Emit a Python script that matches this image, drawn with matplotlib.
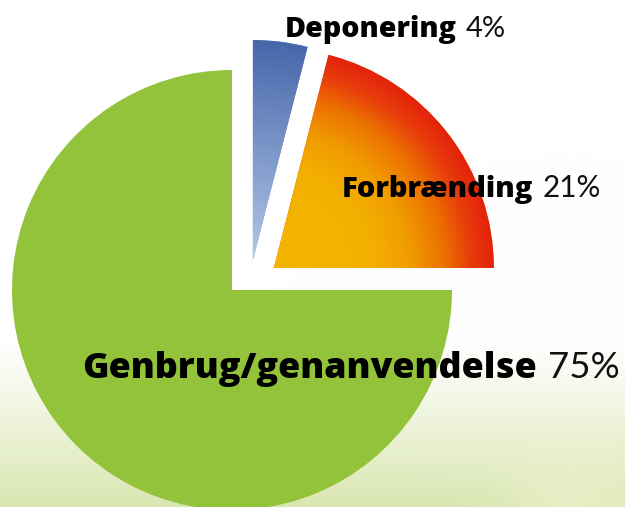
import numpy
import matplotlib
matplotlib.use("Agg")
import matplotlib.pyplot as plt
from matplotlib.colors import LinearSegmentedColormap, to_rgb

# data
categories = ["Genbrug/genanvendelse", "Forbrænding", "Deponering"]
shares = [75, 21, 4]
pct_labels = ["75%", "21%", "4%"]

# layout (pixels of a 625x507 picture)
W, H = 625, 507
R_PX = 220.0
CX, CY = 232.0, 290.0
# shift of each slice out of the pie, in radius units (x right, y up)
shifts = [(0.0, 0.0), (0.19, 0.10), (0.095, 0.136)]
label_pos = [(82, 378, 25.8), (342, 197, 21), (285, 37, 20.6)]

green = "#92c33a"
blue_map = LinearSegmentedColormap.from_list("b", ["#b4c7e7", "#7c97c9", "#4767ab"])
orange_map = LinearSegmentedColormap.from_list(
    "o", [(0.0, "#f4b500"), (0.45, "#f3b000"), (0.62, "#f09c00"),
          (0.78, "#ec7000"), (0.9, "#e83c0c"), (1.0, "#e4220c")])

fig = plt.figure(figsize=(W / 100, H / 100), dpi=100)
ax = fig.add_axes([0, 0, 1, 1])

x0, x1 = -CX / R_PX, (W - CX) / R_PX
y0, y1 = -(H - CY) / R_PX, CY / R_PX

# background: white fading to pale green at the bottom, with a soft glow
yy, xx = numpy.mgrid[0:H, 0:W]
t = numpy.clip((yy - 340) / 167.0, 0, 1) ** 1.1
bg = numpy.ones((H, W, 3))
low = numpy.array(to_rgb("#d9e6b0"))
bg = bg * (1 - t[..., None]) + low * t[..., None]
glow = numpy.exp(-(((xx - 570) ** 2 + (yy - 520) ** 2) / (2 * 45.0 ** 2)))
bg = bg * (1 - 0.6 * glow[..., None]) + numpy.array(to_rgb("#f1f5d4")) * 0.6 * glow[..., None]
ax.imshow(bg, extent=(x0, x1, y0, y1), origin="upper", zorder=0, aspect="auto")

wedges, _ = ax.pie(shares, colors=[green, "#e0600a", "#6a88c0"], startangle=90,
                   counterclock=True, radius=1.0, center=(0, 0),
                   wedgeprops=dict(linewidth=0))
for w, s in zip(wedges, shifts):
    w.set_center(s)
    w.set_zorder(2)

# gradient fills for the two small slices
gx, gy = numpy.meshgrid(numpy.linspace(x0, x1, W), numpy.linspace(y1, y0, H))
for w, cmap in [(wedges[1], orange_map), (wedges[2], blue_map)]:
    cx, cy = w.center
    d = numpy.sqrt((gx - cx) ** 2 + (gy - cy) ** 2)
    im = ax.imshow(numpy.clip(d, 0, 1), cmap=cmap, vmin=0, vmax=1,
                   extent=(x0, x1, y0, y1), origin="upper", zorder=3, aspect="auto")
    im.set_clip_path(w)

ax.set_xlim(x0, x1)
ax.set_ylim(y0, y1)
ax.set_aspect("equal")
ax.axis("off")

fig.canvas.draw()
renderer = fig.canvas.get_renderer()
for name, pct, (px, py, fs) in zip(categories, pct_labels, label_pos):
    t1 = fig.text(px / W, 1 - py / H, name, fontsize=fs, fontweight=800,
                  family=["Open Sans", "DejaVu Sans"], color="black",
                  va="baseline", ha="left", zorder=5)
    bb = t1.get_window_extent(renderer)
    fig.text((bb.x1 + fs * 0.42) / W, 1 - py / H, pct, fontsize=fs * 1.02,
             fontweight="normal", family=["Lato", "DejaVu Sans"], color="#111111",
             va="baseline", ha="left", zorder=5)

fig.savefig("out.png", dpi=100)
